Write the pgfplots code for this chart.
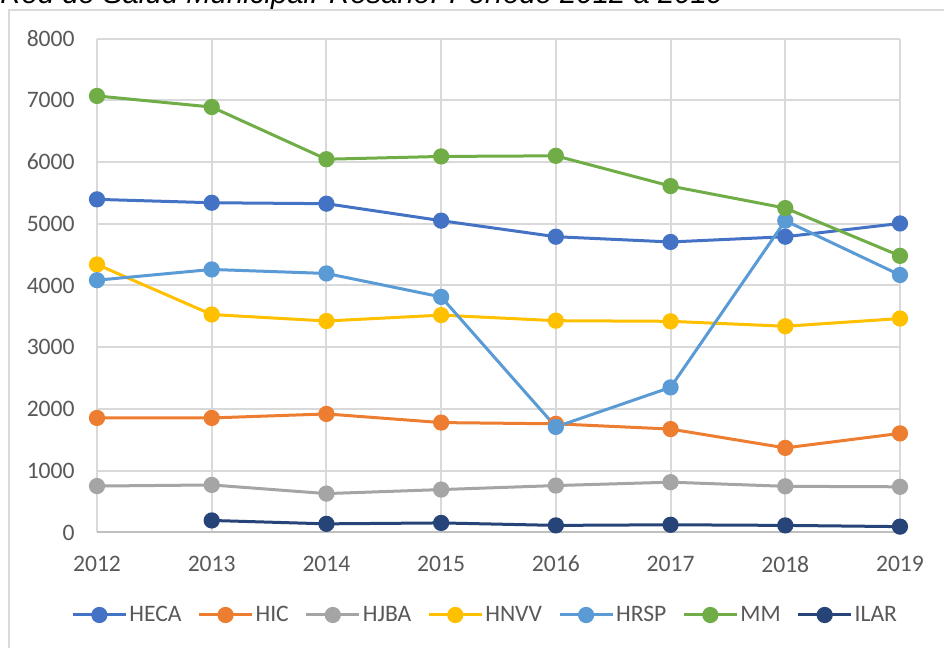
\documentclass[border=0pt]{standalone}
\usepackage{fontspec}
\setmainfont{Carlito}
\newfontfamily\titlefont{Liberation Sans}
\usepackage{pgfplots}
\pgfplotsset{compat=1.18}
\definecolor{cHECA}{HTML}{4472C4}
\definecolor{cHIC}{HTML}{ED7D31}
\definecolor{cHJBA}{HTML}{A5A5A5}
\definecolor{cHNVV}{HTML}{FFC000}
\definecolor{cHRSP}{HTML}{5B9BD5}
\definecolor{cMM}{HTML}{70AD47}
\definecolor{cILAR}{HTML}{264478}
\definecolor{gridgray}{HTML}{D9D9D9}
\definecolor{axgray}{HTML}{BFBFBF}
\definecolor{labelgray}{HTML}{595959}
\begin{document}
\begin{tikzpicture}
\path[use as bounding box] (0,0) rectangle (472pt,324pt);
\clip (0,0) rectangle (472pt,324pt);
\fill[white] (0,0) rectangle (472pt,324pt);
\draw[gridgray, line width=1pt] (4.5pt,-10pt) rectangle (480pt,319pt);
\node[anchor=base west, inner sep=0pt] at (0pt,322pt) {\resizebox{361.5pt}{!}{\titlefont\itshape Red de Salud Municipal. Rosario. Período 2012 a 2019}};
\begin{axis}[
  scale only axis,
  width=401.5pt, height=247pt,
  at={(48.5pt,57.75pt)}, anchor=south west,
  xmin=2012, xmax=2019, ymin=0, ymax=8000,
  xtick={2012,2013,...,2019},
  ytick={0,1000,...,8000},
  /pgf/number format/1000 sep={},
  /pgf/number format/assume math mode=true,
  axis x line*=bottom, axis y line*=left,
  x axis line style={draw=axgray, line width=1pt},
  y axis line style={draw=none},
  major tick length=0pt,
  tick style={draw=none},
  xmajorgrids, ymajorgrids,
  grid style={draw=gridgray, line width=1pt},
  tick label style={color=labelgray, font=\fontsize{11.8}{14}\selectfont},
  yticklabel style={anchor=east, inner sep=0pt, xshift=-11pt},
  xticklabel style={anchor=north, inner sep=0pt, yshift=-11.5pt},
  clip=false,
  every axis plot/.append style={line width=1.5pt, mark=*, mark size=3.3pt, mark options={solid, draw=none}},
  legend columns=7,
  legend style={draw=none, fill=none, at={(axis description cs:-0.0324,-0.167)}, anchor=west,
    font=\fontsize{11.8}{14}\selectfont, text=labelgray, inner sep=0pt,
    nodes={inner sep=1pt},
    /tikz/every even column/.append style={column sep=7pt}},
  legend image code/.code={\draw[mark repeat=2, mark phase=2, #1] plot coordinates {(0pt,0pt) (13.25pt,0pt) (26.5pt,0pt)};},
]
\addplot[color=cHECA, mark options={fill=cHECA}] coordinates {(2012,5395) (2013,5340) (2014,5325) (2015,5050) (2016,4790) (2017,4705) (2018,4790) (2019,5005)};
\addlegendentry{HECA}
\addplot[color=cHIC, mark options={fill=cHIC}] coordinates {(2012,1855) (2013,1855) (2014,1920) (2015,1780) (2016,1760) (2017,1675) (2018,1370) (2019,1605)};
\addlegendentry{HIC}
\addplot[color=cHJBA, mark options={fill=cHJBA}] coordinates {(2012,752) (2013,770) (2014,630) (2015,695) (2016,760) (2017,815) (2018,748) (2019,740)};
\addlegendentry{HJBA}
\addplot[color=cHNVV, mark options={fill=cHNVV}] coordinates {(2012,4340) (2013,3530) (2014,3425) (2015,3520) (2016,3430) (2017,3420) (2018,3340) (2019,3465)};
\addlegendentry{HNVV}
\addplot[color=cHRSP, mark options={fill=cHRSP}] coordinates {(2012,4086) (2013,4260) (2014,4195) (2015,3815) (2016,1710) (2017,2350) (2018,5050) (2019,4170)};
\addlegendentry{HRSP}
\addplot[color=cMM, mark options={fill=cMM}] coordinates {(2012,7070) (2013,6890) (2014,6045) (2015,6090) (2016,6100) (2017,5610) (2018,5254) (2019,4480)};
\addlegendentry{MM}
\addplot[color=cILAR, mark options={fill=cILAR}] coordinates {(2013,195) (2014,140) (2015,155) (2016,115) (2017,125) (2018,115) (2019,95)};
\addlegendentry{ILAR}
\end{axis}
\end{tikzpicture}
\end{document}
